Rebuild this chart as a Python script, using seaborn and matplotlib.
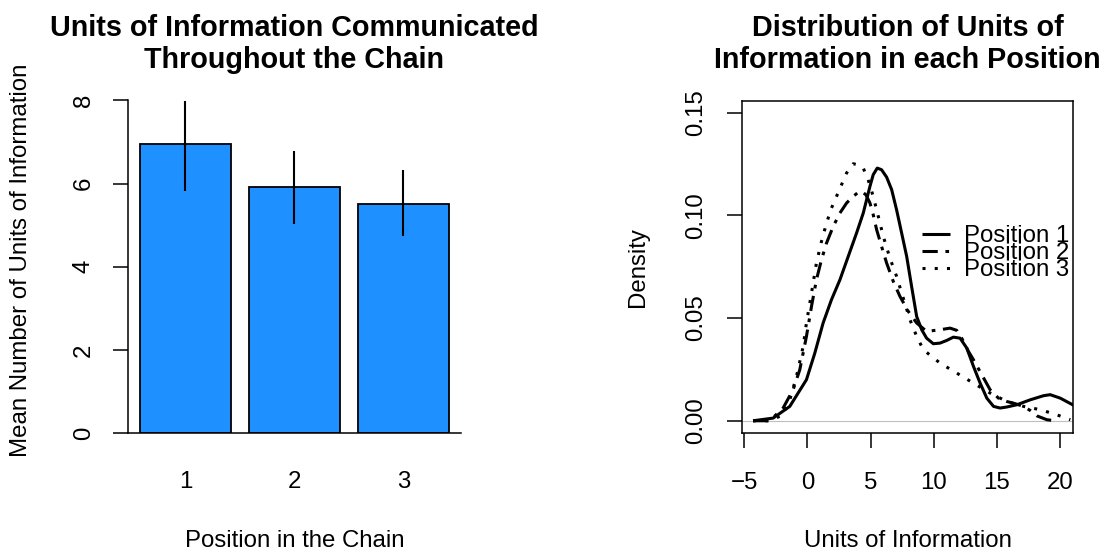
import matplotlib
matplotlib.use("Agg")
import matplotlib.pyplot as plt
import seaborn as sns
import pandas as pd

# ---- bar chart data: mean units per chain position with interval bounds
positions = ["1", "2", "3"]
mean_units = [6.96, 5.91, 5.52]
ci_low = [5.81, 5.03, 4.73]
ci_high = [7.99, 6.78, 6.33]

# ---- kernel density estimates of units of information per position
pos1_x = [-4.31, -2.72, -1.40, -0.08, 0.58, 1.24, 1.90, 2.57, 3.23, 3.89, 4.42, 4.95, 5.21, 5.53,
          5.87, 6.27, 6.67, 7.06, 7.46, 7.86, 8.25, 8.65, 9.05, 9.44, 9.97, 10.50, 11.03, 11.56,
          12.09, 12.62, 13.15, 13.68, 14.21, 14.74, 15.26, 15.79, 16.59, 17.65, 18.70, 19.23,
          20.03, 21.16]
pos1_y = [0.0, 0.0013, 0.0070, 0.0200, 0.0329, 0.0476, 0.0589, 0.0686, 0.0800, 0.0914, 0.1011,
          0.1141, 0.1198, 0.1230, 0.1222, 0.1186, 0.1125, 0.1027, 0.0914, 0.0800, 0.0654, 0.0508,
          0.0443, 0.0402, 0.0375, 0.0378, 0.0391, 0.0407, 0.0402, 0.0354, 0.0265, 0.0183, 0.0110,
          0.0070, 0.0062, 0.0067, 0.0078, 0.0102, 0.0122, 0.0127, 0.0110, 0.0073]

pos2_x = [-4.31, -2.99, -1.93, -1.14, -0.61, -0.08, 0.32, 0.71, 1.11, 1.51, 2.04, 2.57, 3.10, 3.62,
          4.02, 4.29, 4.63, 4.95, 5.21, 5.48, 5.87, 6.27, 6.80, 7.33, 7.99, 8.65, 9.44, 10.50,
          11.30, 11.83, 12.22, 12.75, 13.15, 13.81, 14.47, 15.13, 15.79, 16.46, 17.12, 17.65,
          18.17, 18.97, 19.63]
pos2_y = [0.0, 0.0, 0.0062, 0.0151, 0.0248, 0.0411, 0.0557, 0.0686, 0.0784, 0.0865, 0.0946,
          0.1011, 0.1060, 0.1092, 0.1112, 0.1117, 0.1100, 0.1060, 0.1003, 0.0930, 0.0849, 0.0768,
          0.0678, 0.0605, 0.0532, 0.0476, 0.0435, 0.0443, 0.0451, 0.0440, 0.0402, 0.0338, 0.0297,
          0.0224, 0.0151, 0.0110, 0.0094, 0.0083, 0.0070, 0.0050, 0.0024, 0.0005, 0.0]

pos3_x = [-4.31, -2.99, -1.93, -1.40, -0.87, -0.34, -0.08, 0.32, 0.71, 1.11, 1.51, 1.90, 2.30, 2.70,
          3.10, 3.62, 4.02, 4.42, 4.81, 5.21, 5.61, 6.01, 6.53, 7.06, 7.59, 8.12, 8.65, 9.18,
          9.84, 10.50, 11.83, 13.15, 14.47, 15.79, 17.12, 18.44, 19.76, 20.82]
pos3_y = [0.0, 0.0, 0.0029, 0.0102, 0.0216, 0.0362, 0.0476, 0.0622, 0.0768, 0.0873, 0.0962,
          0.1035, 0.1092, 0.1149, 0.1206, 0.1251, 0.1246, 0.1230, 0.1173, 0.1092, 0.0995, 0.0897,
          0.0792, 0.0703, 0.0597, 0.0492, 0.0411, 0.0346, 0.0313, 0.0281, 0.0232, 0.0183, 0.0135,
          0.0094, 0.0070, 0.0054, 0.0029, 0.0005]

series_labels = ["Position 1", "Position 2", "Position 3"]
density_ticks = [0.00, 0.05, 0.10, 0.15]
unit_ticks = [-5, 0, 5, 10, 15, 20]
count_ticks = [0, 2, 4, 6, 8]

sns.set_style("ticks")
plt.rcParams["font.family"] = ["Liberation Sans", "DejaVu Sans"]
plt.rcParams.update({
    "axes.linewidth": 1.1,
    "axes.edgecolor": "black",
    "text.color": "black",
    "axes.labelcolor": "black",
    "xtick.color": "black",
    "ytick.color": "black",
})

W, H = 1108, 554
fig = plt.figure(figsize=(W / 100, H / 100), dpi=100)


def px_axes(left, top, right, bottom):
    return fig.add_axes([left / W, 1 - bottom / H, (right - left) / W, (bottom - top) / H])


TXT = 17.3
TITLE = 20.7
TICK_LEN = 10.8

# ---------------- left panel: bar chart ----------------
ax1 = px_axes(127.7, 87.0, 461.0, 433.3)
bars = pd.DataFrame({"pos": positions, "mean": mean_units})
sns.barplot(data=bars, x="pos", y="mean", ax=ax1, color="#1E90FF", saturation=1,
            width=0.833, edgecolor="black", linewidth=1.3, errorbar=None)
ax1.vlines(range(len(positions)), ci_low, ci_high, color="black", linewidth=1.5)
ax1.set_xlim(-0.53, 2.53)
ax1.set_ylim(0, 8.32)
ax1.set_yticks(count_ticks)
ax1.set_yticklabels([str(t) for t in count_ticks], rotation=90, va="center")
for s in ("top", "right"):
    ax1.spines[s].set_visible(False)
ax1.spines["left"].set_bounds(0, 8)
ax1.tick_params(axis="y", length=TICK_LEN, width=1.1, labelsize=TXT, pad=13)
ax1.tick_params(axis="x", length=0, labelsize=TXT, pad=27)
ax1.set_xlabel("Position in the Chain", fontsize=TXT, labelpad=27)
ax1.set_ylabel("Mean Number of Units of Information", fontsize=TXT, labelpad=29)
fig.text(294.3 / W, 1 - 44 / H, "Units of Information Communicated\nThroughout the Chain",
         ha="center", va="center", fontsize=TITLE, fontweight="bold", linespacing=1.22)

# ---------------- right panel: density curves ----------------
ax2 = px_axes(741.7, 100.7, 1073.3, 433.3)
ax2.axhline(0, color="0.75", linewidth=0.8, zorder=1)
sns.lineplot(x=pos1_x, y=pos1_y, ax=ax2, color="black", linewidth=2.2, sort=False,
             label=series_labels[0])
sns.lineplot(x=pos2_x, y=pos2_y, ax=ax2, color="black", linewidth=2.2, sort=False,
             label=series_labels[1])
sns.lineplot(x=pos3_x, y=pos3_y, ax=ax2, color="black", linewidth=2.2, sort=False,
             label=series_labels[2])
lines = [l for l in ax2.get_lines() if l.get_label() in series_labels]
lines[1].set_dashes([5, 2.5, 1.2, 2.5])
lines[2].set_dashes([1, 3])
for l in lines:
    l.set_solid_capstyle("butt")
    l.set_dash_capstyle("butt")

ax2.set_xlim(-5.21, 21.06)
ax2.set_ylim(-0.0061, 0.1558)
ax2.set_xticks(unit_ticks)
ax2.set_xticklabels([f"{t}".replace("-", "\u2212") for t in unit_ticks])
ax2.set_yticks(density_ticks)
ax2.set_yticklabels([f"{t:.2f}" for t in density_ticks], rotation=90, va="center")
ax2.tick_params(axis="y", length=TICK_LEN, width=1.1, labelsize=TXT, pad=14)
ax2.tick_params(axis="x", length=TICK_LEN, width=1.1, labelsize=TXT, pad=17)
ax2.set_xlabel("Units of Information", fontsize=TXT, labelpad=26)
ax2.set_ylabel("Density", fontsize=TXT, labelpad=26)
ax2.legend(handles=lines, labels=series_labels, loc="upper left",
           bbox_to_anchor=(0.543, 0.626), frameon=False, fontsize=TXT,
           handlelength=1.17, handletextpad=0.6, labelspacing=-0.2,
           borderpad=0, borderaxespad=0)
fig.text(907.5 / W, 1 - 44 / H, "Distribution of Units of\nInformation in each Position",
         ha="center", va="center", fontsize=TITLE, fontweight="bold", linespacing=1.22)

fig.savefig("out.png", dpi=100)
